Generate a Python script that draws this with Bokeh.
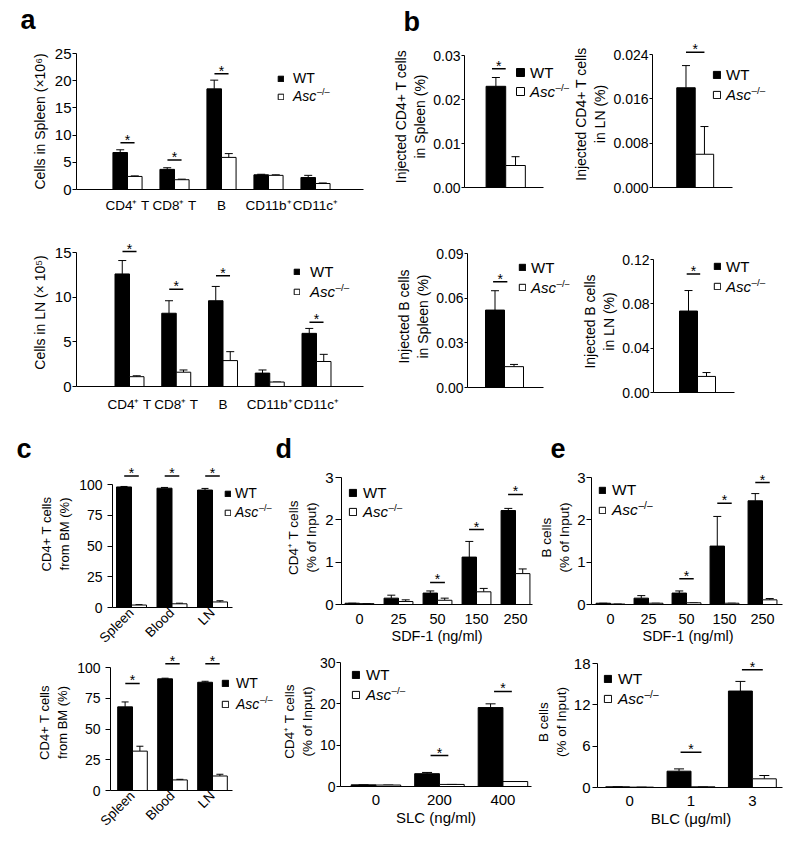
import math
from bokeh.plotting import figure
from bokeh.models import (ColumnDataSource, FixedTicker, NumeralTickFormatter,
                          Whisker, TeeHead, Legend, LegendItem, Label, Range1d)
from bokeh.transform import dodge
from bokeh.layouts import row, column
from bokeh.embed import file_html
from bokeh.resources import INLINE

FONT = "Liberation Sans"

# ---------------- data ----------------
a_cats = ["CD4⁺ T", "CD8⁺ T", "B", "CD11b⁺", "CD11c⁺"]
a_spleen_wt = [6.8, 3.7, 18.5, 2.7, 2.2]
a_spleen_wt_err = [0.5, 0.3, 1.6, 0.1, 0.4]
a_spleen_ko = [2.4, 1.8, 5.9, 2.6, 1.1]
a_spleen_ko_err = [0.1, 0.1, 0.7, 0.1, 0.1]
a_spleen_sig = [8.6, 5.4, 21.3, None, None]

a_ln_wt = [12.6, 8.2, 9.6, 1.5, 5.95]
a_ln_wt_err = [1.5, 1.4, 1.6, 0.35, 0.55]
a_ln_ko = [1.1, 1.6, 2.9, 0.5, 2.8]
a_ln_ko_err = [0.1, 0.25, 1.0, 0.0, 0.8]
a_ln_sig = [15.1, 10.9, 12.4, None, 7.2]

b_cd4_spleen_wt = [0.023]
b_cd4_spleen_wt_err = [0.002]
b_cd4_spleen_ko = [0.005]
b_cd4_spleen_ko_err = [0.002]
b_cd4_spleen_sig = [0.027]

b_cd4_ln_wt = [0.018]
b_cd4_ln_wt_err = [0.004]
b_cd4_ln_ko = [0.006]
b_cd4_ln_ko_err = [0.005]
b_cd4_ln_sig = [0.0244]

b_b_spleen_wt = [0.052]
b_b_spleen_wt_err = [0.013]
b_b_spleen_ko = [0.014]
b_b_spleen_ko_err = [0.0015]
b_b_spleen_sig = [0.071]

b_b_ln_wt = [0.0735]
b_b_ln_wt_err = [0.0185]
b_b_ln_ko = [0.0145]
b_b_ln_ko_err = [0.0035]
b_b_ln_sig = [0.107]

c_cats = ["Spleen", "Blood", "LN"]
c1_wt = [98.0, 97.0, 95.5]
c1_wt_err = [0.4, 0.6, 1.3]
c1_ko = [2.0, 3.0, 4.5]
c1_ko_err = [0.3, 0.5, 1.0]
c1_sig = [107, 107, 107]

c2_wt = [68.0, 90.8, 88.0]
c2_wt_err = [4.0, 0.5, 0.8]
c2_ko = [32.0, 8.6, 11.8]
c2_ko_err = [4.0, 0.5, 1.4]
c2_sig = [87, 103, 103]

d_sdf = ["0", "25", "50", "150", "250"]
d1_wt = [0.03, 0.15, 0.27, 1.12, 2.22]
d1_wt_err = [0.0, 0.07, 0.05, 0.37, 0.05]
d1_ko = [0.02, 0.07, 0.10, 0.30, 0.73]
d1_ko_err = [0.0, 0.04, 0.05, 0.08, 0.11]
d1_sig = [None, None, 0.52, 1.77, 2.6]

d_slc = ["0", "200", "400"]
d2_wt = [0.4, 3.1, 19.1]
d2_wt_err = [0.0, 0.3, 0.9]
d2_ko = [0.35, 0.5, 1.2]
d2_ko_err = [0.0, 0.0, 0.0]
d2_sig = [None, 7.5, 23.0]

e_sdf = ["0", "25", "50", "150", "250"]
e1_wt = [0.03, 0.15, 0.27, 1.38, 2.45]
e1_wt_err = [0.0, 0.06, 0.05, 0.70, 0.17]
e1_ko = [0.01, 0.03, 0.04, 0.03, 0.11]
e1_ko_err = [0.0, 0.0, 0.0, 0.0, 0.03]
e1_sig = [None, None, 0.61, 2.39, 2.88]

e_blc = ["0", "1", "3"]
e2_wt = [0.1, 2.37, 14.0]
e2_wt_err = [0.0, 0.33, 1.4]
e2_ko = [0.05, 0.1, 1.26]
e2_ko_err = [0.0, 0.0, 0.48]
e2_sig = [None, 5.1, 17.1]


# ---------------- helpers ----------------
def make_fig(box, frame, xmap, ymap, xbound_px=None, ybounds=None):
    fx0, fy0, fx1, fy1 = box
    L, T, R, B = frame
    (xv0, xp0), (xv1, xp1) = xmap
    kx = (xv1 - xv0) / (xp1 - xp0)
    xs = xv0 + (L - xp0) * kx
    xe = xv0 + (R - xp0) * kx
    (yv0, yp0), (yv1, yp1) = ymap
    ky = (yv1 - yv0) / (yp1 - yp0)
    ys = yv0 + (B - yp0) * ky
    ye = yv0 + (T - yp0) * ky
    p = figure(width=fx1 - fx0, height=fy1 - fy0,
               x_range=Range1d(xs, xe), y_range=Range1d(ys, ye),
               output_backend="svg", toolbar_location=None, title=None,
               min_border_left=L - fx0, min_border_right=fx1 - R,
               min_border_top=T - fy0, min_border_bottom=fy1 - B,
               frame_align=False,
               background_fill_color="white", border_fill_color="white")
    p.outline_line_color = None
    p.grid.visible = False
    xa, ya = p.xaxis[0], p.yaxis[0]
    for ax in (xa, ya):
        ax.axis_line_color = "black"
        ax.axis_line_width = 1
        ax.minor_tick_line_color = None
        ax.major_label_text_font = FONT
        ax.axis_label_text_font = FONT
        ax.axis_label_text_font_style = "normal"
        ax.major_label_text_color = "black"
        ax.axis_label_text_color = "black"
    xa.major_tick_line_color = None
    ya.major_tick_line_color = "black"
    ya.major_tick_in = 0
    if xbound_px is not None:
        xa.bounds = (xs, xv0 + (xbound_px - xp0) * kx)
    if ybounds is not None:
        ya.bounds = ybounds
    return p


def style_y(p, ticks, fs, tick_out, standoff, label, label_fs, label_standoff, fmt=None):
    ya = p.yaxis[0]
    ya.ticker = FixedTicker(ticks=ticks)
    ya.major_label_text_font_size = f"{fs}px"
    ya.major_tick_out = tick_out
    ya.major_label_standoff = standoff
    ya.axis_label = label
    ya.axis_label_text_font_size = f"{label_fs}px"
    ya.axis_label_standoff = label_standoff
    if fmt:
        ya.formatter = NumeralTickFormatter(format=fmt)


def style_x(p, ticks, cats, fs, standoff, label=None, label_fs=14, label_standoff=1, orient=None):
    xa = p.xaxis[0]
    xa.ticker = FixedTicker(ticks=ticks)
    xa.major_label_overrides = {t: c for t, c in zip(ticks, cats)}
    xa.major_label_text_font_size = f"{fs}px"
    xa.major_label_standoff = standoff
    xa.major_tick_out = 0
    if orient is not None:
        xa.major_label_orientation = orient
    if label:
        xa.axis_label = label
        xa.axis_label_text_font_size = f"{label_fs}px"
        xa.axis_label_standoff = label_standoff


def bars(p, xs, wt, wt_err, ko, ko_err, w, cap):
    d = w / 2.0
    src = ColumnDataSource(dict(
        x=xs, wt=wt, ko=ko,
        wt_hi=[v + e for v, e in zip(wt, wt_err)],
        ko_hi=[v + e for v, e in zip(ko, ko_err)]))
    r_wt = p.vbar(x=dodge("x", -d, range=p.x_range), top="wt", width=w, source=src,
                  fill_color="black", line_color="black", line_width=1)
    r_ko = p.vbar(x=dodge("x", d, range=p.x_range), top="ko", width=w, source=src,
                  fill_color="white", line_color="black", line_width=1)
    for off, lo, hi in ((-d, "wt", "wt_hi"), (d, "ko", "ko_hi")):
        p.add_layout(Whisker(source=src, base=dodge("x", off, range=p.x_range),
                             lower=lo, upper=hi, dimension="height",
                             upper_head=TeeHead(size=cap, line_width=1, line_color="black"),
                             lower_head=None, line_color="black", line_width=1))
    return r_wt, r_ko


def sig(p, xs, ys, dx, hw, fs=14):
    px = [x + dx for x, y in zip(xs, ys) if y is not None]
    py = [y for y in ys if y is not None]
    src = ColumnDataSource(dict(x0=[x - hw for x in px], x1=[x + hw for x in px],
                                x=px, y=py, t=["*"] * len(px)))
    p.segment(x0="x0", y0="y", x1="x1", y1="y", source=src, line_color="black",
              line_width=1.5)
    p.text(x="x", y="y", text="t", source=src, text_align="center",
           text_baseline="middle", y_offset=-3, text_font_size=f"{fs}px",
           text_font={"value": FONT}, text_color="black")


def legend(p, r_wt, r_ko, sq_x, yc_wt, yc_ko, f, sq, standoff):
    h = f * 1.15
    shift = 2
    for r, lab, yc, style in ((r_wt, "WT", yc_wt, "normal"), (r_ko, "Asc", yc_ko, "italic")):
        lg = Legend(items=[LegendItem(label=lab, renderers=[r])],
                    location=(sq_x, yc - h / 2.0 - shift), orientation="vertical",
                    glyph_width=sq, glyph_height=sq, label_height=sq, label_width=5,
                    label_standoff=standoff, padding=0, margin=0, spacing=0,
                    border_line_color=None, background_fill_alpha=0,
                    label_text_font=FONT, label_text_font_size=f"{f}px",
                    label_text_font_style=style, label_text_color="black")
        p.add_layout(lg)
    p.add_layout(Label(x=sq_x + sq + standoff + 1.67 * f, y=yc_ko + 0.3 * f - shift,
                       x_units="screen", y_units="screen", text="–/–",
                       text_font=FONT, text_font_size=f"{0.66 * f:.1f}px",
                       text_baseline="middle", text_color="black"))


def letter(p, txt, x, y):
    p.add_layout(Label(x=x, y=y, x_units="screen", y_units="screen", text=txt,
                       text_font=FONT, text_font_size="27px", text_font_style="bold",
                       text_baseline="middle", text_color="black"), "above")


# ---------------- panel a ----------------
a_x = [1, 2, 3, 4, 5]
p_a1 = make_fig((0, 0, 390, 218), (76, 53, 363, 189), ((1, 127), (5, 315)), ((0, 189), (25, 53)))
style_x(p_a1, a_x, a_cats, 13.5, 8)
style_y(p_a1, [0, 5, 10, 15, 20, 25], 15, 4, 1, "Cells in Spleen (×10⁶)", 14, 4)
r1, r2 = bars(p_a1, a_x, a_spleen_wt, a_spleen_wt_err, a_spleen_ko, a_spleen_ko_err, 0.31, 8)
sig(p_a1, a_x, a_spleen_sig, 0, 0.15)
legend(p_a1, r1, r2, 201, 113, 95, 14, 7, 9)
letter(p_a1, "a", -56, 34)

p_a2 = make_fig((0, 218, 390, 420), (76, 238, 363, 386), ((1, 129), (5, 316)), ((0, 386), (15, 252)),
                ybounds=(0, 15))
style_x(p_a2, a_x, a_cats, 13.5, 10)
style_y(p_a2, [0, 5, 10, 15], 15, 4, 1, "Cells in LN (× 10⁵)", 14, 4)
r1, r2 = bars(p_a2, a_x, a_ln_wt, a_ln_wt_err, a_ln_ko, a_ln_ko_err, 0.31, 8)
sig(p_a2, a_x, a_ln_sig, 0, 0.15)
legend(p_a2, r1, r2, 217, 117, 97, 15, 7, 10)

# ---------------- panel b ----------------
b_x = [1]


def b_panel(box, frame, xmap, ymap, xb, yb, ticks, fmt, label, wt, wte, ko, koe, sg, sdx, shw,
            lg_x, lg_y1, lg_y2, sq):
    p = make_fig(box, frame, xmap, ymap, xbound_px=xb, ybounds=yb)
    p.xaxis[0].ticker = FixedTicker(ticks=[])
    style_y(p, ticks, 14, 3, 1, label, 14, 2, fmt)
    ra, rb = bars(p, b_x, wt, wte, ko, koe, 0.4, 8)
    sig(p, b_x, sg, sdx, shw)
    legend(p, ra, rb, lg_x, lg_y1, lg_y2, 15, sq, 5)
    return p


p_b1 = b_panel((390, 0, 570, 218), (462, 45, 569, 187), ((1, 504), (1.4, 524)), ((0, 187), (0.03, 55)),
               543, (0, 0.03), [0, 0.01, 0.02, 0.03], "0.00", "Injected CD4+ T cells\nin Spleen (%)",
               b_cd4_spleen_wt, b_cd4_spleen_wt_err, b_cd4_spleen_ko, b_cd4_spleen_ko_err,
               b_cd4_spleen_sig, -0.14, 0.14, 51, 117, 98, 10)
letter(p_b1, "b", -61, 24)
p_b2 = b_panel((570, 0, 800, 218), (648, 40, 785, 187), ((1, 692), (1.4, 711)), ((0, 187), (0.024, 54)),
               730, (0, 0.024), [0, 0.008, 0.016, 0.024], "0.000", "Injected CD4+ T cells\nin LN (%)",
               b_cd4_ln_wt, b_cd4_ln_wt_err, b_cd4_ln_ko, b_cd4_ln_ko_err,
               b_cd4_ln_sig, 0.0, 0.2, 60, 115, 95, 9)
p_b3 = b_panel((390, 218, 570, 420), (467, 245, 569, 387), ((1, 504), (1.4, 523)), ((0, 387), (0.09, 253)),
               543, (0, 0.09), [0, 0.03, 0.06, 0.09], "0.00", "Injected B cells\nin Spleen (%)",
               b_b_spleen_wt, b_b_spleen_wt_err, b_b_spleen_ko, b_b_spleen_ko_err,
               b_b_spleen_sig, -0.09, 0.15, 51, 122, 102, 8)
p_b4 = b_panel((570, 218, 800, 420), (653, 250, 785, 392), ((1, 697), (1.4, 715)), ((0, 392), (0.12, 259)),
               734, (0, 0.12), [0, 0.04, 0.08, 0.12], "0.00", "Injected B cells\nin LN (%)",
               b_b_ln_wt, b_b_ln_wt_err, b_b_ln_ko, b_b_ln_ko_err,
               b_b_ln_sig, -0.09, 0.15, 60, 128, 108, 8)

# ---------------- panel c ----------------
c_x = [0, 1, 2]
p_c1 = make_fig((0, 420, 273, 654), (112, 460, 272, 607), ((0, 131), (2, 212)), ((0, 607), (100, 484)),
                xbound_px=232, ybounds=(0, 100))
style_x(p_c1, c_x, c_cats, 13.5, 3, orient=math.pi / 4)
style_y(p_c1, [0, 25, 50, 75, 100], 14, 5, 5, "CD4+ T cells\nfrom BM (%)", 13, 4)
r1, r2 = bars(p_c1, c_x, c1_wt, c1_wt_err, c1_ko, c1_ko_err, 0.37, 7)
sig(p_c1, c_x, c1_sig, 0, 0.18)
legend(p_c1, r1, r2, 112, 116, 97, 14, 7, 4)
letter(p_c1, "c", -96, 12)

p_c2 = make_fig((0, 654, 278, 842), (110, 654, 277, 790), ((0, 132), (2, 212)), ((0, 790), (100, 667)),
                xbound_px=232, ybounds=(0, 100))
style_x(p_c2, c_x, c_cats, 13.5, 3, orient=math.pi / 4)
style_y(p_c2, [0, 25, 50, 75, 100], 14, 5, 5, "CD4+ T cells\nfrom BM (%)", 13, 4)
r1, r2 = bars(p_c2, c_x, c2_wt, c2_wt_err, c2_ko, c2_ko_err, 0.37, 7)
sig(p_c2, c_x, c2_sig, 0, 0.18)
legend(p_c2, r1, r2, 111, 109, 88, 14, 8, 7)

# ---------------- panel d ----------------
d1_x = [0, 1, 2, 3, 4]
p_d1 = make_fig((273, 420, 533, 654), (341, 470, 532, 604), ((0, 359), (4, 515)), ((0, 604), (3, 477)),
                ybounds=(0, 3))
style_x(p_d1, d1_x, d_sdf, 14.5, 9, "SDF-1 (ng/ml)", 14.5, 1)
style_y(p_d1, [0, 1, 2, 3], 15, 6, 2, "CD4⁺ T cells\n(% of Input)", 13.5, 3)
r1, r2 = bars(p_d1, d1_x, d1_wt, d1_wt_err, d1_ko, d1_ko_err, 0.37, 8)
sig(p_d1, d1_x, d1_sig, 0, 0.19)
legend(p_d1, r1, r2, 7, 114, 95, 15, 9, 6)
letter(p_d1, "d", -66, 22)

d2_x = [0, 1, 2]
p_d2 = make_fig((278, 654, 532, 842), (337, 656, 531, 786), ((0, 373), (2, 502)), ((0, 786), (30, 662)),
                ybounds=(0, 30))
style_x(p_d2, d2_x, d_slc, 15, 8, "SLC (ng/ml)", 15, 1)
style_y(p_d2, [0, 10, 20, 30], 14, 4, 1, "CD4⁺ T cells\n(% of Input)", 13.5, 2)
r1, r2 = bars(p_d2, d2_x, d2_wt, d2_wt_err, d2_ko, d2_ko_err, 0.39, 10)
sig(p_d2, d2_x, d2_sig, 0, 0.14)
legend(p_d2, r1, r2, 11, 114, 94, 15, 9, 6)

# ---------------- panel e ----------------
e1_x = [0, 1, 2, 3, 4]
p_e1 = make_fig((533, 420, 800, 654), (591, 470, 784, 604), ((0, 610), (4, 762)), ((0, 604), (3, 477)),
                xbound_px=782, ybounds=(0, 3))
style_x(p_e1, e1_x, e_sdf, 14.5, 9, "SDF-1 (ng/ml)", 14.5, 1)
style_y(p_e1, [0, 1, 2, 3], 15, 5, 1, "B cells\n(% of Input)", 13.5, 2)
r1, r2 = bars(p_e1, e1_x, e1_wt, e1_wt_err, e1_ko, e1_ko_err, 0.38, 8)
sig(p_e1, e1_x, e1_sig, 0, 0.19)
legend(p_e1, r1, r2, 7, 116, 96, 15.5, 8, 6)
letter(p_e1, "e", -41, 22)

e2_x = [0, 1, 2]
p_e2 = make_fig((532, 654, 800, 842), (592, 656, 784, 787), ((0, 625), (2, 751)), ((0, 787), (18, 663)),
                xbound_px=782, ybounds=(0, 18))
style_x(p_e2, e2_x, e_blc, 15, 8, "BLC (μg/ml)", 15, 1)
style_y(p_e2, [0, 6, 12, 18], 15, 5, 2, "B cells\n(% of Input)", 13.5, 2)
r1, r2 = bars(p_e2, e2_x, e2_wt, e2_wt_err, e2_ko, e2_ko_err, 0.39, 10)
sig(p_e2, e2_x, e2_sig, 0, 0.17)
legend(p_e2, r1, r2, 6, 110, 90, 15.5, 9, 6)

layout = column(
    row(p_a1, p_b1, p_b2, spacing=0),
    row(p_a2, p_b3, p_b4, spacing=0),
    row(p_c1, p_d1, p_e1, spacing=0),
    row(p_c2, p_d2, p_e2, spacing=0),
    spacing=0)

open("out.html", "w").write(file_html(layout, INLINE, "chart"))
